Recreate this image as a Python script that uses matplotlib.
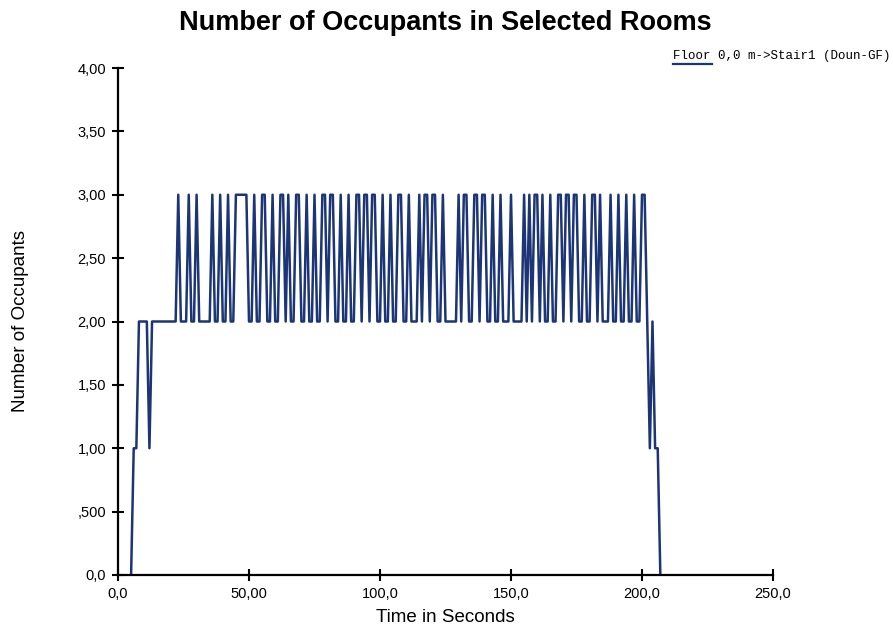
import numpy as np
import matplotlib.pyplot as plt
from matplotlib.lines import Line2D

# occupancy sampled every second, starting at t = 5 s
t_start = 5
occupants = [
    0, 1, 1, 2, 2,                      # 5-9
    2, 2, 1, 2, 2, 2, 2, 2, 2, 2,       # 10-19
    2, 2, 2, 3, 2, 2, 2, 3, 2, 2,       # 20-29
    3, 2, 2, 2, 2, 2, 3, 2, 2, 3,       # 30-39
    2, 2, 3, 2, 2, 3, 3, 3, 3, 3,       # 40-49
    2, 2, 3, 2, 2, 3, 3, 2, 2, 3,       # 50-59
    2, 2, 3, 3, 2, 3, 2, 2, 3, 3,       # 60-69
    2, 2, 3, 2, 2, 3, 2, 2, 3, 3,       # 70-79
    2, 3, 3, 2, 2, 3, 2, 2, 3, 2,       # 80-89
    2, 3, 3, 2, 3, 3, 2, 3, 3, 2,       # 90-99
    2, 3, 2, 2, 3, 2, 2, 3, 3, 2,       # 100-109
    2, 3, 2, 2, 2, 3, 2, 3, 3, 2,       # 110-119
    3, 3, 2, 2, 3, 2, 2, 2, 2, 2,       # 120-129
    3, 2, 3, 3, 2, 2, 3, 3, 2, 3,       # 130-139
    3, 2, 2, 3, 2, 2, 3, 2, 2, 2,       # 140-149
    3, 2, 2, 2, 2, 3, 2, 3, 2, 3,       # 150-159
    3, 2, 3, 2, 2, 3, 2, 2, 3, 3,       # 160-169
    2, 3, 3, 2, 3, 3, 2, 2, 3, 2,       # 170-179
    2, 3, 3, 2, 3, 2, 2, 2, 3, 2,       # 180-189
    2, 3, 2, 2, 3, 2, 2, 3, 2, 2,       # 190-199
    3, 3, 2, 1, 2, 1, 1, 0,             # 200-207
]
time = np.arange(t_start, t_start + len(occupants))

series_name = "Floor 0,0 m->Stair1 (Doun-GF)"
x_ticks = [0, 50, 100, 150, 200, 250]
x_labels = ["0,0", "50,00", "100,0", "150,0", "200,0", "250,0"]
y_ticks = [0, 0.5, 1, 1.5, 2, 2.5, 3, 3.5, 4]
y_labels = ["0,0", ",500", "1,00", "1,50", "2,00", "2,50", "3,00", "3,50", "4,00"]

line_color = '#1c3577'
plt.rcParams['font.family'] = ['Liberation Sans', 'DejaVu Sans']

fig = plt.figure(figsize=(8.93, 6.26), dpi=100)
ax = fig.add_axes([118 / 893, 1 - 575 / 626, 655 / 893, 507 / 626])

ax.plot(time, occupants, color=line_color, linewidth=1.8)

ax.set_xlim(0, 250)
ax.set_ylim(0, 4)
ax.set_xticks(x_ticks)
ax.set_xticklabels(x_labels)
ax.set_yticks(y_ticks)
ax.set_yticklabels(y_labels)

for side in ['top', 'right']:
    ax.spines[side].set_visible(False)
for side in ['left', 'bottom']:
    ax.spines[side].set_linewidth(1.6)
ax.tick_params(axis='both', direction='inout', length=9, width=1.5,
               labelsize=10.5, colors='black')
ax.tick_params(axis='y', pad=4)
ax.tick_params(axis='x', pad=4)

ax.set_xlabel("Time in Seconds", fontsize=13.5)
ax.set_ylabel("Number of Occupants", fontsize=13.5)
ax.xaxis.set_label_coords(0.5, -0.068)
ax.yaxis.set_label_coords(-0.136, 0.5)

fig.text(445 / 893, 1 - 23 / 626, "Number of Occupants in Selected Rooms",
         ha='center', va='center', fontsize=19.5, fontweight='bold')

# legend: series name with the line sample under its first word
fig.text(673 / 893, 1 - 56 / 626, series_name, family='Liberation Mono',
         fontsize=9, ha='left', va='center')
fig.add_artist(Line2D([673 / 893, 712 / 893], [1 - 64 / 626, 1 - 64 / 626],
                      transform=fig.transFigure, color=line_color, linewidth=1.6))

fig.savefig("out.png", dpi=100)
